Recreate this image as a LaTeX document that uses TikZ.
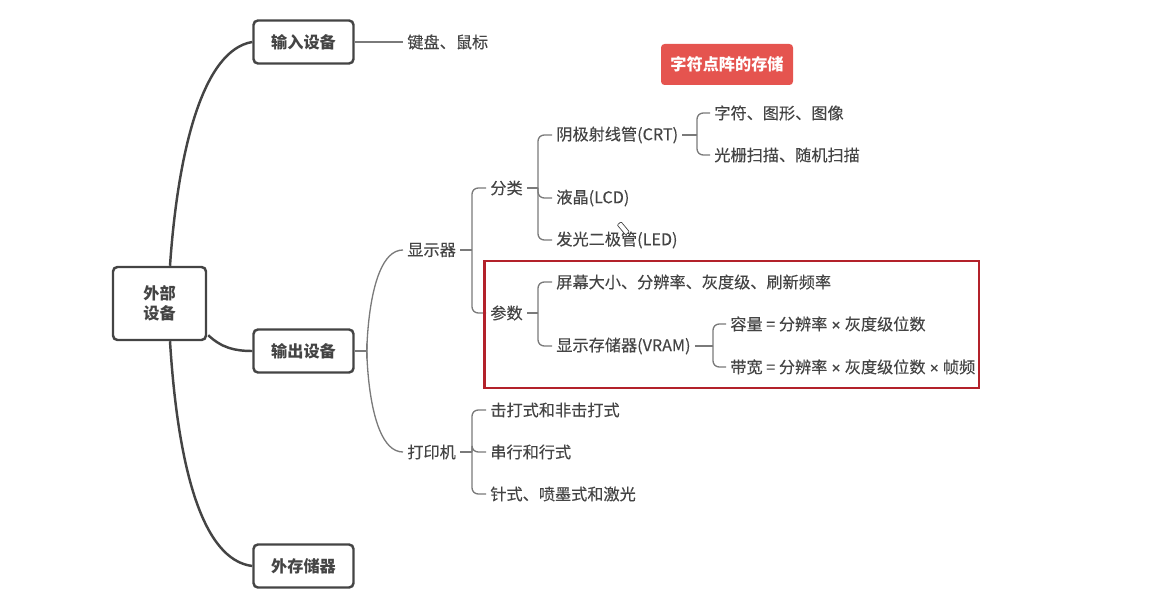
\documentclass[tikz,border=0pt]{standalone}
\usepackage{fontspec}
\usepackage{xcolor}
\setmainfont{Noto Sans CJK SC}
\newfontfamily\leaffont[FakeBold=0.2]{Noto Sans CJK SC}
\newfontfamily\crossfont[FakeBold=0.5]{Liberation Sans}
\newcommand{\cross}{\kern0.013cm{\crossfont\fontsize{8.6pt}{11pt}\selectfont ×}\kern0.013cm}
\definecolor{c1}{HTML}{444444}
\definecolor{c2}{HTML}{7A7A7A}
\definecolor{c3}{HTML}{E5544F}
\definecolor{c4}{HTML}{B3212A}
\tikzset{
  box/.style={draw=c1, line width=1.4pt, rounded corners=2.5pt, fill=white, text=c1,
    font=\fontsize{9.2pt}{11.3pt}\selectfont\bfseries, align=center, inner sep=0pt},
  leaf/.style={text=c1, font=\fontsize{9.2pt}{11pt}\leaffont, anchor=west, inner sep=0.08cm},
  stem/.style={draw=c2, line width=0.75pt},
  fork/.style={stem, rounded corners=3.5pt},
  trunk/.style={draw=c1, line width=1.4pt}
}
\begin{document}
\begin{tikzpicture}[x=0.02cm, y=-0.02cm]
  \useasboundingbox (0,0) rectangle (1158,604);
  % Boxes
  \node[box, minimum width=1.86cm, minimum height=1.46cm] (root) at (159.5,303.5) {外部\\设备};
  \node[box, minimum width=2cm, minimum height=0.86cm] (input) at (303.5,42) {输入设备};
  \node[box, minimum width=2cm, minimum height=0.86cm] (output) at (303.5,351) {输出设备};
  \node[box, minimum width=2cm, minimum height=0.86cm] (storage) at (303.5,566) {外存储器};
  % Title
  \node[fill=c3, text=white, rounded corners=2pt, minimum width=2.64cm, minimum height=0.82cm,
    inner sep=0pt, font=\fontsize{9.2pt}{11pt}\selectfont\bfseries] (title) at (727,64.5) {字符点阵的存储};
  % Level two
  \node[leaf] (mouse) at (403,42) {键盘、鼠标};
  \node[leaf] (disp) at (403,250) {显示器};
  \node[leaf] (printer) at (403,452) {打印机};
  % Display
  \node[leaf] (kind) at (486,188) {分类};
  \node[leaf] (param) at (486,313) {参数};
  \node[leaf] (crt) at (552,135) {阴极射线管(CRT)};
  \node[leaf] (lcd) at (552,198) {液晶(LCD)};
  \node[leaf] (led) at (552,240) {发光二极管(LED)};
  \node[leaf] (chars) at (710,113) {字符、图形、图像};
  \node[leaf] (scan) at (710,155) {光栅扫描、随机扫描};
  \node[leaf] (size) at (552,282) {屏幕大小、分辨率、灰度级、刷新频率};
  \node[leaf] (vram) at (552,346) {显示存储器(VRAM)};
  \node[leaf] (cap) at (726,324) {容量 = 分辨率 \cross{} 灰度级位数};
  \node[leaf] (band) at (726,367) {带宽 = 分辨率 \cross{} 灰度级位数 \cross{} 帧频};
  % Printer
  \node[leaf] (impact) at (486,410) {击打式和非击打式};
  \node[leaf] (serial) at (486,452) {串行和行式};
  \node[leaf] (needle) at (486,494) {针式、喷墨式和激光};
  % Thick connectors
  \draw[trunk] ([xshift=0.21cm]root.north) .. controls (178,150) and (203,50) .. (input.west);
  \draw[trunk] (root.south east) ++(0.02cm,0.12cm) .. controls (222,348) and (235,351) .. (output.west);
  \draw[trunk] ([xshift=0.21cm]root.south) .. controls (178,470) and (203,560) .. (storage.west);
  % Thin connectors
  \draw[stem] (input.east) -- (mouse.west);
  \coordinate (outT) at (367,351);
  \draw[stem] (output.east) -- (outT);
  \draw[stem] (outT) to[out=-90, in=180] (disp.west);
  \draw[stem] (outT) to[out=90, in=180] (printer.west);
  \coordinate (dispT) at (472,250);
  \draw[stem] (disp.east) -- (dispT);
  \foreach \kid in {kind,param}{
    \draw[fork] (dispT) |- (\kid.west);
  }
  \coordinate (kindT) at (538,188);
  \draw[stem] (kind.east) -- (kindT);
  \foreach \kid in {crt,lcd,led}{
    \draw[fork] (kindT) |- (\kid.west);
  }
  \coordinate (crtT) at (697,135);
  \draw[stem] (crt.east) -- (crtT);
  \foreach \kid in {chars,scan}{
    \draw[fork] (crtT) |- (\kid.west);
  }
  \coordinate (paramT) at (538,313);
  \draw[stem] (param.east) -- (paramT);
  \foreach \kid in {size,vram}{
    \draw[fork] (paramT) |- (\kid.west);
  }
  \coordinate (vramT) at (713,346);
  \draw[stem] (vram.east) -- (vramT);
  \foreach \kid in {cap,band}{
    \draw[fork] (vramT) |- (\kid.west);
  }
  \coordinate (printT) at (472,452);
  \draw[stem] (printer.east) -- (printT);
  \foreach \kid in {impact,serial,needle}{
    \draw[fork] (printT) |- (\kid.west);
  }
  % Red frame
  \draw[c4, line width=1.6pt] (484.5,261) rectangle (979,388);
  % Pen cursor
  \draw[c1, line width=0.4pt, fill=white, rotate around={-50:(623,228)}, rounded corners=0.5pt]
    (617,225.5) rectangle (630,230.5);
\end{tikzpicture}
\end{document}
